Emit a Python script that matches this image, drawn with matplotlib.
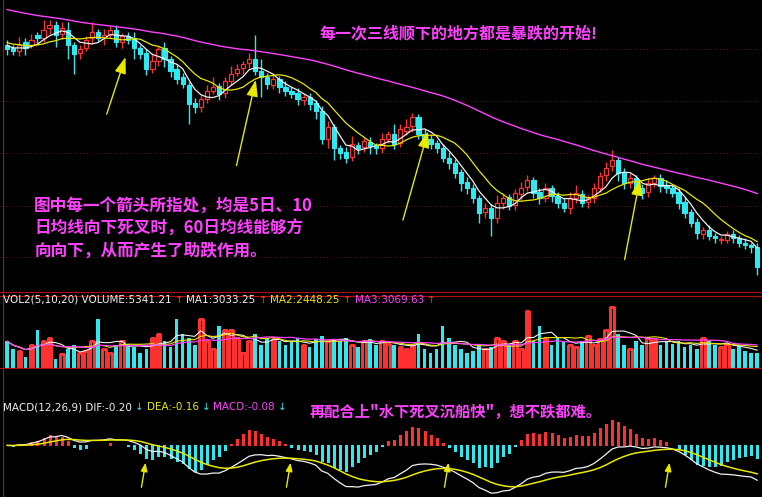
import numpy as np
import pandas as pd
import matplotlib
matplotlib.use("Agg")
import matplotlib.pyplot as plt
from matplotlib.patches import Rectangle, FancyArrowPatch

plt.rcParams['font.family'] = ['Noto Sans CJK SC', 'DejaVu Sans']

history = [330,328,332,326,324,327,322,320,323,318,316,319,314,312,315,310,308,311,306,304,
           307,302,300,303,298,296,299,294,292,295,290,288,291,286,284,287,282,280,283,278,
           276,279,274,272,275,270,268,271,266,264,267,262,260,263,258,256,259,255,253,252]
closes = [250,248,255,252,260,262,270,275,265,272, 255,245,250,260,268,262,265,270,258,264,
          260,252,245,230,238,250,240,228,220,215, 195,192,200,208,212,205,218,225,230,235,
          240,228,222,215,220,212,208,205,200,202, 195,188,160,172,150,145,140,155,150,158,
          152,150,160,165,155,170,172,182,165,160, 155,150,140,135,125,115,110,100,85,90,
          80,95,100,92,105,110,118,105,100,110, 102,95,90,100,105,95,100,110,122,130,
          138,125,115,120,110,105,115,120,112,110, 105,95,85,75,65,68,62,60,58,64,
          60,55,52,50,30]
opens = [255,252,248,258,255,265,262,272,275,266, 270,255,246,252,262,268,263,266,270,258,
         264,262,252,246,230,238,252,240,230,222, 214,196,192,200,208,213,206,218,226,231,
         236,240,228,222,214,220,212,208,206,199, 202,196,188,160,172,150,146,141,154,151,
         157,152,150,160,165,156,168,173,182,165, 160,156,150,140,135,126,116,110,100,86,
         90,80,95,101,93,104,111,118,106,100, 110,102,95,90,100,104,96,100,110,123,
         132,138,126,115,120,110,106,115,120,113, 110,106,96,86,76,64,68,62,58,58,
         64,60,55,52,50]
upper = [5,3,8,4,6,3,10,5,4,6, 8,3,5,4,10,3,6,4,5,3, 4,6,3,5,8,4,6,3,5,4,
         3,5,4,6,10,3,4,8,5,3, 6,25,12,4,5,3,6,4,5,3, 4,3,5,6,3,4,5,8,3,4,
         5,4,6,3,10,5,8,4,3,5, 4,3,5,6,4,3,5,4,3,5, 4,8,5,3,4,6,5,3,4,5,
         3,4,5,6,8,4,3,5,4,6, 10,3,4,5,3,4,5,3,4,5, 3,4,5,3,4,3,5,3,4,3, 4,3,5,3,4]
lower = [6,4,5,8,3,5,4,6,12,5, 15,20,6,4,5,3,8,4,5,6, 4,12,5,6,4,5,8,6,5,4,
         20,6,5,4,3,6,5,4,3,6, 5,4,20,5,4,6,5,4,6,5, 6,8,5,10,12,6,5,4,6,5,
         8,6,5,4,6,5,4,6,5,8, 6,5,4,6,5,8,6,5,10,6, 18,5,6,4,5,6,4,5,6,4,
         6,5,4,6,5,4,6,5,4,6, 5,8,6,5,4,6,5,4,6,5, 4,6,5,4,6,5,4,6,5,4, 6,5,4,6,8]
volume = [35,25,22,15,30,50,35,40,12,18, 25,30,20,22,35,65,25,20,30,35,
          32,28,20,25,40,45,35,28,65,45, 40,30,65,35,25,55,50,50,40,20,
          35,45,30,40,38,35,30,35,40,30, 28,38,42,35,38,35,40,30,28,35,
          38,30,35,32,30,28,25,30,45,25, 20,25,55,40,30,25,20,22,30,25,
          28,40,35,30,35,25,75,35,55,40, 30,40,35,30,28,35,42,30,38,50,
          80,45,30,25,35,30,40,38,30,35, 32,35,28,30,25,40,35,30,28,32,
          25,30,22,20,20]

RED = '#ff3030'; CYAN = '#30e8f0'; YEL = '#e8e800'; MAG = '#ff40ff'; WHITE = '#f0f0f0'
n = len(closes)
x = np.arange(n)
allc = pd.Series(history + closes, dtype=float)
ma5 = allc.rolling(5).mean().values[-n:]
ma10 = allc.rolling(10).mean().values[-n:]
ma60 = allc.rolling(60, min_periods=1).mean().values[-n:]
o_arr = np.array(opens, float); c_arr = np.array(closes, float)
up = c_arr >= o_arr

fig = plt.figure(figsize=(7.62, 4.97), dpi=100, facecolor='black')
H = 497.0
def ax_at(top, bot):
    a = fig.add_axes([0, 1 - bot / H, 1, (bot - top) / H], facecolor='black')
    a.set_xticks([]); a.set_yticks([])
    for s in a.spines.values():
        s.set_visible(False)
    a.set_xlim(-1.2, n - 0.2)
    return a

ax = ax_at(0, 292)
ax.set_ylim(5, 300)
for gy in [250, 198, 145, 92, 40]:
    ax.axhline(gy, color='#802020', lw=0.6, ls=(0, (1, 3)))
cols = [RED if u else CYAN for u in up]
hi = np.maximum(o_arr, c_arr) + np.array(upper)
lo = np.minimum(o_arr, c_arr) - np.array(lower)
ax.vlines(x, lo, hi, colors=cols, lw=1.0)
for i in x:
    b0 = min(opens[i], closes[i]); h = max(abs(closes[i] - opens[i]), 0.8)
    if up[i]:
        ax.add_patch(Rectangle((i - 0.35, b0), 0.7, h, facecolor='black', edgecolor=RED, lw=0.9, zorder=3))
    else:
        ax.add_patch(Rectangle((i - 0.35, b0), 0.7, h, facecolor=CYAN, edgecolor=CYAN, lw=0.8, zorder=3))
ax.plot(x, ma5, color=WHITE, lw=0.9, zorder=4)
ax.plot(x, ma10, color=YEL, lw=0.9, zorder=4)
ax.plot(x, ma60, color=MAG, lw=1.0, zorder=4)
for (x0, y0, x1, y1) in [(16.3, 182, 19.7, 245), (37.8, 130, 41.2, 222), (65.3, 75, 69.7, 170), (102, 35, 104.7, 122)]:
    ax.annotate('', xy=(x1, y1), xytext=(x0, y0),
                arrowprops=dict(arrowstyle='-|>,head_width=0.35,head_length=1.0', color=YEL, lw=1.0), zorder=5)
ax.text(0.42, 0.87, '每一次三线顺下的地方都是暴跌的开始!', transform=ax.transAxes,
        color=MAG, fontsize=11.5, fontweight='bold')
ax.text(0.045, 0.125, '图中每一个箭头所指处，均是5日、10\n日均线向下死叉时，60日均线能够方\n向向下，从而产生了助跌作用。',
        transform=ax.transAxes, color=MAG, fontsize=12, fontweight='bold', linespacing=1.3)

# Volume
av = ax_at(292, 368)
av.set_ylim(0, 100)
vol = np.array(volume, float)
av.vlines(x[up] - 0.3, 0, vol[up], colors=RED, lw=1.0, antialiased=False)
av.vlines(x[up] + 0.3, 0, vol[up], colors=RED, lw=1.0, antialiased=False)
av.hlines(vol[up], x[up] - 0.3, x[up] + 0.3, colors=RED, lw=1.0, antialiased=False)
av.bar(x[~up], vol[~up], width=0.6, color=CYAN)
vs = pd.Series(volume, dtype=float)
av.plot(x, vs.rolling(5, min_periods=1).mean(), color=WHITE, lw=0.8)
av.plot(x, vs.rolling(10, min_periods=1).mean(), color=YEL, lw=0.8)
av.plot(x, vs.rolling(20, min_periods=1).mean(), color=MAG, lw=0.9)

# MACD
am = ax_at(368, 497)
cs = pd.Series(closes, dtype=float)
dif = (cs.ewm(span=12, adjust=False).mean() - cs.ewm(span=26, adjust=False).mean()).values
dea = pd.Series(dif).ewm(span=9, adjust=False).mean().values
hist = 2 * (dif - dea)
lo_m = -1.08 * abs(np.nanmin(dif))
am.set_ylim(lo_m, -lo_m * 0.6 / 0.4)
am.vlines(x, 0, hist, colors=[RED if h >= 0 else CYAN for h in hist], lw=1.0, antialiased=False)
am.plot(x, dif, color=WHITE, lw=0.9)
am.plot(x, dea, color=YEL, lw=1.1)

for yy in [292, 296, 368]:
    fig.add_artist(plt.Line2D([0, 1], [1 - yy / H] * 2, color='#b01010', lw=0.8))
fig.add_artist(plt.Line2D([0.004, 0.004], [0, 1], color='#b01010', lw=0.8))

def header(y, parts):
    xx = 3
    r = fig.canvas.get_renderer()
    for s, c in parts:
        t = fig.text(xx / 762, 1 - y / H, s, color=c, fontsize=7.5, va='center', family=['DejaVu Sans'])
        bb = t.get_window_extent(renderer=r)
        xx += bb.width + 3
header(300, [('VOL2(5,10,20) VOLUME:5341.21', WHITE), ('↑', RED), ('MA1:3033.25', WHITE), ('↑', RED),
             ('MA2:2448.25', YEL), ('↑', RED), ('MA3:3069.63', MAG), ('↑', RED)])
header(407, [('MACD(12,26,9) DIF:-0.20', WHITE), ('↓', CYAN), ('DEA:-0.16', YEL), ('↓', CYAN),
             ('MACD:-0.08', MAG), ('↓', CYAN)])
fig.text(310 / 762, 1 - 412 / H, '再配合上"水下死叉沉船快"，想不跌都难。', color=MAG, fontsize=11,
         fontweight='bold', va='center')
for ax_x in [141, 286, 444, 665]:
    fig.add_artist(FancyArrowPatch((ax_x / 762, 1 - 490 / H), ((ax_x + 5) / 762, 1 - 460 / H),
                   transform=fig.transFigure, arrowstyle='-|>,head_width=2,head_length=5', color=YEL, lw=1.0))

fig.savefig('out.png', dpi=100, facecolor='black')
